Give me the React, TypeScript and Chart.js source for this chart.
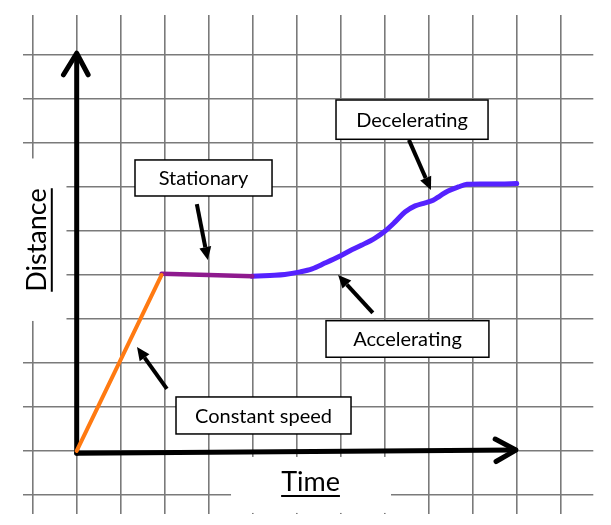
import React, { useEffect, useRef } from "react";
import { Chart, registerables } from "chart.js";

Chart.register(...registerables);

// Grid tick values (one grid square = one unit)
const X_TICKS = [-1, 0, 1, 2, 3, 4, 5, 6, 7, 8, 9, 10, 11];
const Y_TICKS = [-1, 0, 1, 2, 3, 4, 5, 6, 7, 8, 9];

// Motion segments (time, distance)
const constantX = [0, 1.93];
const constantY = [0, 4.0];
const stationaryX = [1.93, 3.0, 3.99];
const stationaryY = [4.03, 4.0, 3.97];
const motionX = [3.98, 4.39, 4.73, 5.08, 5.35, 5.64, 5.94, 6.21, 6.48, 6.78, 7.01, 7.23, 7.46, 7.69, 7.92, 8.1, 8.26, 8.44, 8.67, 8.87, 9.17, 9.62, 10.0];
const motionY = [3.97, 3.99, 4.01, 4.07, 4.14, 4.27, 4.41, 4.55, 4.68, 4.84, 5.0, 5.2, 5.43, 5.57, 5.64, 5.7, 5.8, 5.91, 6.0, 6.06, 6.07, 6.07, 6.08];

// Hand-drawn axes with arrowheads
const yAxisX = [0, 0];
const yAxisY = [-0.05, 9.0];
const yHeadX = [-0.3, 0, 0.26];
const yHeadY = [8.55, 9.04, 8.55];
const xAxisX = [0, 9.97];
const xAxisY = [-0.05, 0.02];
const xHeadX = [9.51, 9.98, 9.53];
const xHeadY = [0.27, 0.02, -0.24];

// Annotation boxes
const boxLabels = ["Stationary", "Decelerating", "Accelerating", "Constant speed"];
const boxLeft = [1.325, 5.893, 5.666, 2.257];
const boxRight = [4.439, 9.348, 9.368, 6.234];
const boxTop = [6.614, 7.977, 2.961, 1.227];
const boxBottom = [5.795, 7.084, 2.13, 0.386];

// Pointer arrows
const pointerFromX = [2.73, 7.55, 6.73, 2.05];
const pointerFromY = [5.61, 7.07, 3.14, 1.41];
const pointerToX = [2.98, 8.05, 5.94, 1.37];
const pointerToY = [4.34, 5.93, 4.0, 2.36];

// Axis titles
const titleTexts = ["Distance", "Time"];
const titleX = [-0.884, 5.314];
const titleY = [4.795, -0.705];

// White areas behind the axis titles
const gapLeft = [-1.243, 3.507];
const gapRight = [-0.232, 7.143];
const gapTop = [6.648, -0.136];
const gapBottom = [2.955, -1.409];

const FONT = "Lato, 'Open Sans', sans-serif";

const pts = (xs: number[], ys: number[]) => xs.map((v, i) => ({ x: v, y: ys[i] }));

const sketchPlugin = {
  id: "sketch",
  beforeDatasetsDraw(chart: any) {
    const { ctx } = chart;
    const sx = chart.scales.x;
    const sy = chart.scales.y;
    ctx.save();
    ctx.fillStyle = "#ffffff";
    for (let i = 0; i < gapLeft.length; i++) {
      const l = sx.getPixelForValue(gapLeft[i]);
      const r = sx.getPixelForValue(gapRight[i]);
      const t = sy.getPixelForValue(gapTop[i]);
      const b = sy.getPixelForValue(gapBottom[i]);
      ctx.fillRect(l, t, r - l, b - t);
    }
    ctx.fillStyle = "#000";
    ctx.strokeStyle = "#000";
    ctx.lineWidth = 2;
    ctx.font = `27px ${FONT}`;
    ctx.textAlign = "center";
    ctx.textBaseline = "middle";
    for (let i = 0; i < titleTexts.length; i++) {
      const px = sx.getPixelForValue(titleX[i]);
      const py = sy.getPixelForValue(titleY[i]);
      const w = ctx.measureText(titleTexts[i]).width;
      ctx.save();
      ctx.translate(px, py);
      if (i === 0) ctx.rotate(-Math.PI / 2);
      ctx.fillText(titleTexts[i], 0, 0);
      ctx.beginPath();
      ctx.moveTo(-w / 2, 14);
      ctx.lineTo(w / 2, 14);
      ctx.stroke();
      ctx.restore();
    }
    ctx.restore();
  },
  afterDatasetsDraw(chart: any) {
    const { ctx } = chart;
    const sx = chart.scales.x;
    const sy = chart.scales.y;
    ctx.save();
    // pointer arrows
    for (let i = 0; i < pointerFromX.length; i++) {
      const x1 = sx.getPixelForValue(pointerFromX[i]);
      const y1 = sy.getPixelForValue(pointerFromY[i]);
      const x2 = sx.getPixelForValue(pointerToX[i]);
      const y2 = sy.getPixelForValue(pointerToY[i]);
      const ang = Math.atan2(y2 - y1, x2 - x1);
      const head = 13;
      const half = 6;
      const bx = x2 - head * Math.cos(ang);
      const by = y2 - head * Math.sin(ang);
      ctx.strokeStyle = "#000";
      ctx.lineWidth = 4;
      ctx.lineCap = "butt";
      ctx.beginPath();
      ctx.moveTo(x1, y1);
      ctx.lineTo(bx, by);
      ctx.stroke();
      ctx.fillStyle = "#000";
      ctx.beginPath();
      ctx.moveTo(x2, y2);
      ctx.lineTo(bx + half * Math.sin(ang), by - half * Math.cos(ang));
      ctx.lineTo(bx - half * Math.sin(ang), by + half * Math.cos(ang));
      ctx.closePath();
      ctx.fill();
    }
    // boxes
    ctx.font = `20px ${FONT}`;
    ctx.textAlign = "center";
    ctx.textBaseline = "middle";
    for (let i = 0; i < boxLabels.length; i++) {
      const l = sx.getPixelForValue(boxLeft[i]);
      const r = sx.getPixelForValue(boxRight[i]);
      const t = sy.getPixelForValue(boxTop[i]);
      const b = sy.getPixelForValue(boxBottom[i]);
      ctx.fillStyle = "#fff";
      ctx.fillRect(l, t, r - l, b - t);
      ctx.strokeStyle = "#000";
      ctx.lineWidth = 1.5;
      ctx.strokeRect(l, t, r - l, b - t);
      ctx.fillStyle = "#000";
      ctx.fillText(boxLabels[i], (l + r) / 2, (t + b) / 2 + 1);
    }
    ctx.restore();
  },
};

export default function App() {
  const ref = useRef<HTMLCanvasElement>(null);
  useEffect(() => {
    const line = (data: any[], color: string, width: number, order: number, extra: any = {}) => ({
      data,
      borderColor: color,
      backgroundColor: color,
      borderWidth: width,
      pointRadius: 0,
      fill: false,
      borderCapStyle: "round",
      borderJoinStyle: "round",
      order,
      ...extra,
    });
    const chart = new Chart(ref.current!, {
      type: "line",
      data: {
        datasets: [
          line(pts(constantX, constantY), "#FF7A12", 4, 0),
          line(pts(stationaryX, stationaryY), "#8E1A8E", 4.5, 0),
          line(pts(motionX, motionY), "#5522FF", 5, 0, { cubicInterpolationMode: "monotone" }),
          line(pts(yAxisX, yAxisY), "#000", 5, 1),
          line(pts(yHeadX, yHeadY), "#000", 5, 1),
          line(pts(xAxisX, xAxisY), "#000", 5, 1),
          line(pts(xHeadX, xHeadY), "#000", 5, 1),
        ] as any,
      },
      options: {
        animation: false,
        responsive: true,
        maintainAspectRatio: false,
        events: [],
        layout: { padding: { left: 22.7, right: 17.7, top: 15, bottom: 10.7 } },
        plugins: { legend: { display: false }, tooltip: { enabled: false } },
        scales: {
          x: {
            type: "linear",
            min: -1.227,
            max: 11.74,
            afterBuildTicks: (s: any) => {
              s.ticks = X_TICKS.map((v) => ({ value: v }));
            },
            ticks: { display: false },
            border: { display: false },
            grid: { color: "#7a7a7a", lineWidth: 1.6, drawTicks: false },
          },
          y: {
            type: "linear",
            min: -1.44,
            max: 9.909,
            afterBuildTicks: (s: any) => {
              s.ticks = Y_TICKS.map((v) => ({ value: v }));
            },
            ticks: { display: false },
            border: { display: false },
            grid: { color: "#7a7a7a", lineWidth: 1.6, drawTicks: false },
          },
        },
      } as any,
      plugins: [sketchPlugin],
    });
    return () => chart.destroy();
  }, []);
  return (
    <div style={{ position: "absolute", left: 0, top: 0, width: 611, height: 525, background: "#fff" }}>
      <canvas ref={ref} />
    </div>
  );
}
